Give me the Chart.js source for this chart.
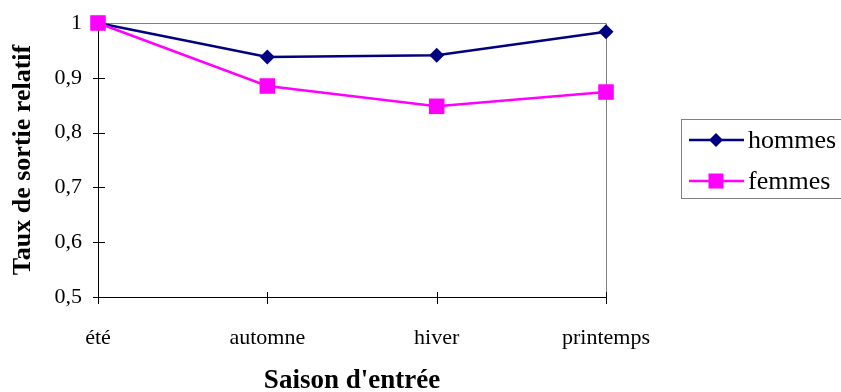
<!DOCTYPE html>
<html>
<head>
<meta charset="utf-8">
<script src="https://cdn.jsdelivr.net/npm/chart.js@4/dist/chart.umd.min.js"></script>
<style>
  html, body { margin: 0; padding: 0; background: #fff; }
  #wrap { width: 841px; height: 392px; position: relative; }
</style>
</head>
<body>
<div id="wrap"><canvas id="c" width="841" height="392"></canvas></div>
<script>
// Saison d'entrée et taux de sortie relatif par sexe
const saisons = ['été', 'automne', 'hiver', 'printemps'];
const hommes = [1.0, 0.938, 0.941, 0.984];
const femmes = [1.0, 0.885, 0.848, 0.874];
const yTicks = [0.5, 0.6, 0.7, 0.8, 0.9, 1];
const serieNoms = ['hommes', 'femmes'];

const FONT = '"Liberation Serif", "Times New Roman", serif';
const NAVY = '#000080';
const MAGENTA = '#FF00FF';

function fmt(v) {
  return Number.isInteger(v) ? String(v) : v.toFixed(1).replace('.', ',');
}

// Frame, cross ticks, axis titles and boxed legend
const decor = {
  id: 'decor',
  beforeDatasetsDraw(chart) {
    const { ctx, chartArea: a, scales } = chart;
    ctx.save();
    ctx.lineWidth = 1;
    // grey frame on top and right
    ctx.strokeStyle = '#808080';
    ctx.beginPath();
    ctx.moveTo(a.left, a.top + 0.5);
    ctx.lineTo(a.right + 0.5, a.top + 0.5);
    ctx.lineTo(a.right + 0.5, a.bottom);
    ctx.stroke();
    // black axes
    ctx.strokeStyle = '#000';
    ctx.beginPath();
    ctx.moveTo(a.left + 0.5, a.top);
    ctx.lineTo(a.left + 0.5, a.bottom + 0.5);
    ctx.lineTo(a.right + 1, a.bottom + 0.5);
    ctx.stroke();
    // tick marks crossing the axes
    ctx.beginPath();
    yTicks.forEach(v => {
      const y = Math.round(scales.y.getPixelForValue(v)) + 0.5;
      ctx.moveTo(a.left - 5, y);
      ctx.lineTo(a.left + 7, y);
    });
    saisons.forEach((s, i) => {
      const x = Math.round(scales.x.getPixelForValue(i)) + 0.5;
      ctx.moveTo(x, a.bottom - 5);
      ctx.lineTo(x, a.bottom + 7);
    });
    ctx.stroke();
    ctx.restore();
  },
  afterDraw(chart) {
    const { ctx, chartArea: a } = chart;
    ctx.save();
    ctx.fillStyle = '#000';
    ctx.font = 'bold 27px ' + FONT;
    ctx.textAlign = 'center';
    ctx.textBaseline = 'middle';
    ctx.fillText("Saison d'entrée", (a.left + a.right) / 2, 381);
    ctx.font = 'bold 26px ' + FONT;
    ctx.translate(23, (a.top + a.bottom) / 2);
    ctx.rotate(-Math.PI / 2);
    ctx.fillText('Taux de sortie relatif', 0, 0);
    ctx.restore();

    // legend
    ctx.save();
    ctx.strokeStyle = '#808080';
    ctx.lineWidth = 1;
    ctx.strokeRect(681.5, 119.5, 170, 79);
    const rows = [140, 181];
    chart.data.datasets.forEach((ds, i) => {
      const y = rows[i];
      ctx.strokeStyle = ds.borderColor;
      ctx.lineWidth = 2.5;
      ctx.beginPath();
      ctx.moveTo(689, y);
      ctx.lineTo(744, y);
      ctx.stroke();
      ctx.fillStyle = ds.pointBackgroundColor;
      ctx.beginPath();
      if (ds.pointStyle === 'rectRot') {
        const r = 7;
        ctx.moveTo(716, y - r); ctx.lineTo(716 + r, y);
        ctx.lineTo(716, y + r); ctx.lineTo(716 - r, y);
        ctx.closePath();
      } else {
        ctx.rect(716 - 7.5, y - 7.5, 15, 15);
      }
      ctx.fill();
      ctx.fillStyle = '#000';
      ctx.font = '26px ' + FONT;
      ctx.textAlign = 'left';
      ctx.textBaseline = 'middle';
      ctx.fillText(ds.label, 748, y + 1);
    });
    ctx.restore();
  }
};

new Chart(document.getElementById('c'), {
  type: 'line',
  data: {
    labels: saisons,
    datasets: [
      {
        label: serieNoms[0],
        data: hommes,
        borderColor: NAVY,
        backgroundColor: NAVY,
        pointBackgroundColor: NAVY,
        pointBorderColor: NAVY,
        pointStyle: 'rectRot',
        pointRadius: 7.5,
        pointBorderWidth: 0,
        borderWidth: 2.5,
        tension: 0,
        order: 1,
        clip: false
      },
      {
        label: serieNoms[1],
        data: femmes,
        borderColor: MAGENTA,
        backgroundColor: MAGENTA,
        pointBackgroundColor: MAGENTA,
        pointBorderColor: MAGENTA,
        pointStyle: 'rect',
        pointRadius: 11,
        pointBorderWidth: 0,
        borderWidth: 2.5,
        tension: 0,
        order: 0,
        clip: false
      }
    ]
  },
  options: {
    responsive: false,
    animation: false,
    events: [],
    layout: { padding: { top: 23, right: 235, left: 0, bottom: 0 } },
    plugins: { legend: { display: false }, tooltip: { enabled: false } },
    scales: {
      x: {
        type: 'category',
        offset: false,
        grid: { display: false, drawTicks: false },
        border: { display: false },
        ticks: {
          color: '#000',
          font: { family: FONT, size: 22 },
          padding: 28,
          maxRotation: 0,
          autoSkip: false
        },
        afterFit(s) { s.height = 95; s.paddingLeft = 0; s.paddingRight = 0; }
      },
      y: {
        min: 0.5,
        max: 1,
        grid: { display: false, drawTicks: false },
        border: { display: false },
        afterBuildTicks(s) { s.ticks = yTicks.map(v => ({ value: v })); },
        ticks: {
          color: '#000',
          font: { family: FONT, size: 22 },
          padding: 16,
          callback: v => fmt(v)
        },
        afterFit(s) { s.width = 98; s.paddingTop = 0; s.paddingBottom = 0; }
      }
    }
  },
  plugins: [decor]
});
</script>
</body>
</html>
